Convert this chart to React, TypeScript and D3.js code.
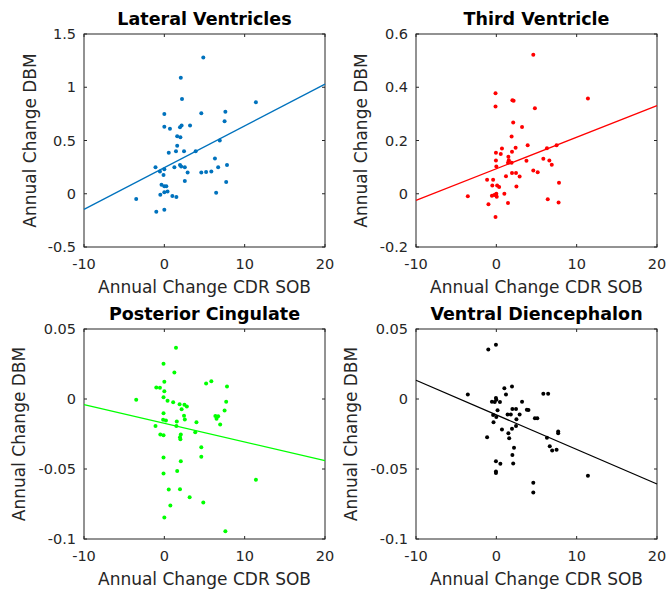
import React from "react";
import * as d3 from "d3";

// x = annual change CDR SOB, y = annual change DBM
const lateralX = [-3.5, -1.0, 0, -1.1, -0.55, 0, -0.1, -0.35, 0, 0.25, -0.5, 0, 0.4, 1.0, 1.5, 0, 0, 0.7, 0.55, 1.25, 1.45, 1.6, 1.6, 2.0, 1.95, 2.15, 3.2, 2.05, 2.2, 2.45, 1.95, 2.1, 2.55, 2.9, 2.55, 3.9, 4.85, 4.6, 4.6, 5.2, 5.85, 6.3, 6.7, 6.45, 6.9, 7.5, 7.6, 7.8, 7.7, 11.4];
const lateralY = [-0.05, -0.17, -0.15, 0.25, 0.21, 0.23, 0.175, 0.085, 0.07, 0.07, -0.01, 0.015, 0.02, -0.02, -0.03, 0.75, 0.63, 0.61, 0.385, 0.25, 0.4, 0.45, 0.54, 0.53, 0.625, 0.64, 0.64, 1.09, 0.89, 0.4, 0.27, 0.255, 0.25, 0.2, 0.12, 0.4, 1.28, 0.755, 0.2, 0.205, 0.21, 0.33, 0.25, 0.01, 0.5, 0.68, 0.77, 0.27, 0.11, 0.86];

const thirdX = [-3.55, -0.98, -0.1, -1.15, -0.4, -0.5, 0.1, 0.35, -0.55, -0.25, 0, 0.05, 1.0, 1.45, -0.1, -0.1, -0.05, -0.05, 0, 0.55, 0.7, 1.2, 1.5, 1.55, 1.45, 1.9, 1.95, 1.9, 2.0, 2.15, 2.1, 2.4, 1.95, 2.45, 2.9, 2.5, 3.2, 3.9, 3.75, 4.6, 4.8, 4.6, 5.15, 5.85, 6.3, 6.6, 6.9, 6.4, 7.5, 7.75, 7.8, 11.4];
const thirdY = [-0.009, -0.039, -0.0875, 0.0525, 0.0525, 0.031, 0.031, 0.025, -0.0075, -0.005, 0, -0.011, 0, -0.035, 0.3775, 0.3275, 0.154, 0.125, 0.1025, 0.149, 0.17, 0.066, 0.139, 0.126, 0.116, 0.116, 0.1575, 0.215, 0.351, 0.349, 0.2675, 0.1725, 0.0775, 0.0775, 0.065, 0.0275, 0.251, 0.1825, 0.124, 0.5225, 0.321, 0.0875, 0.081, 0.131, 0.171, 0.125, 0.109, -0.021, 0.1825, -0.0325, 0.041, 0.3575];

const cingulateX = [-3.5, -1.1, -1.0, -0.55, 0, 0, -0.1, -0.1, 0.4, -0.1, -0.15, 0.2, -0.5, -0.1, -0.1, -0.1, 0.55, 0.75, 0, 1.1, 1.25, 1.45, 1.55, 1.5, 1.6, 1.9, 2.15, 2.5, 2.8, 2.45, 2.55, 2.05, 1.95, 2.0, 2.05, 1.95, 3.15, 3.85, 4.0, 4.6, 4.6, 4.85, 5.2, 5.85, 6.35, 6.5, 6.7, 6.95, 7.5, 7.7, 7.8, 7.6, 11.4];
const cingulateY = [-0.0005, -0.0193, 0.0083, 0.008, 0.0056, 0.0124, 0.0251, 0.0012, -0.0012, -0.0102, -0.0149, -0.0154, -0.0254, -0.0259, -0.0417, -0.0532, -0.0646, -0.0761, -0.0846, -0.0024, 0.019, 0.0366, -0.0161, -0.0193, -0.0515, -0.0037, -0.0073, -0.0041, -0.0054, -0.012, -0.0146, -0.0254, -0.0273, -0.0288, -0.0444, -0.0644, -0.0702, -0.0237, -0.0166, -0.0344, -0.0412, -0.0739, 0.011, 0.0127, -0.0122, -0.0141, -0.0124, -0.0183, -0.0083, -0.002, 0.009, -0.0944, -0.0576];

const diencephalonX = [-3.55, -1.0, -0.05, -1.15, -0.55, -0.2, -0.05, 0, 0.45, 0.15, -0.4, 0, -0.35, -0.05, -0.05, -0.05, 0.5, 0.7, 1.0, 1.2, 1.4, 1.5, 1.6, 1.8, 1.95, 2.0, 2.45, 1.95, 2.5, 2.45, 2.9, 2.2, 2.0, 2.1, 3.2, 3.8, 4.0, 4.8, 5.1, 4.6, 4.6, 5.85, 6.45, 6.3, 6.65, 6.95, 7.5, 7.7, 7.7, 11.4];
const diencephalonY = [0.0032, 0.0354, 0.0388, -0.0273, -0.002, -0.0022, 0.0007, -0.0005, -0.0022, -0.008, -0.0115, -0.0129, -0.0166, -0.0444, -0.0517, -0.0529, -0.0463, -0.0217, 0.0076, 0.0032, -0.011, -0.0244, -0.028, -0.011, 0.009, -0.0071, -0.0071, -0.0212, -0.0144, -0.0193, -0.011, -0.0349, -0.04, -0.0461, -0.002, -0.0076, -0.0078, -0.0137, -0.0137, -0.0598, -0.0668, 0.0037, 0.0037, -0.0276, -0.0337, -0.0368, -0.0363, -0.0244, -0.0232, -0.0549];

// linear fits: [intercept, slope]
const lateralFit = [0.245, 0.03923];
const thirdFit = [0.0937, 0.01187];
const cingulateFit = [-0.01733, -0.001333];
const diencephalonFit = [-0.0113, -0.00247];

const xTicks = [-10, 0, 10, 20];
const lateralTicks = [-0.5, 0, 0.5, 1, 1.5];
const thirdTicks = [-0.2, 0, 0.2, 0.4, 0.6];
const smallTicks = [-0.1, -0.05, 0, 0.05];

const titles = ["Lateral Ventricles", "Third Ventricle", "Posterior Cingulate", "Ventral Diencephalon"];
const xLabel = "Annual Change CDR SOB";
const yLabel = "Annual Change DBM";

const axisColor = "#262626";
const font = "DejaVu Sans, sans-serif";

type PanelProps = {
  title: string;
  xs: number[];
  ys: number[];
  fit: number[];
  yTicks: number[];
  color: string;
  left: number;
  top: number;
  right: number;
  bottom: number;
  yLabelX: number;
};

function Panel(p: PanelProps) {
  const x = d3.scaleLinear().domain([-10, 20]).range([p.left, p.right]);
  const y = d3
    .scaleLinear()
    .domain([p.yTicks[0], p.yTicks[p.yTicks.length - 1]])
    .range([p.bottom, p.top]);

  const line = d3
    .line<number>()
    .x((d) => x(d))
    .y((d) => y(p.fit[0] + p.fit[1] * d));

  const tl = 3;
  return (
    <g>
      <text
        x={(p.left + p.right) / 2}
        y={p.top - 9}
        textAnchor="middle"
        fontWeight="bold"
        fontSize={17.5}
        fill="#000"
      >
        {p.title}
      </text>
      <rect
        x={p.left}
        y={p.top}
        width={p.right - p.left}
        height={p.bottom - p.top}
        fill="#fff"
        stroke={axisColor}
        strokeWidth={1}
      />
      {xTicks.map((t) => (
        <g key={"x" + t}>
          <line x1={x(t)} x2={x(t)} y1={p.bottom} y2={p.bottom - tl} stroke={axisColor} />
          <line x1={x(t)} x2={x(t)} y1={p.top} y2={p.top + tl} stroke={axisColor} />
          <text x={x(t)} y={p.bottom + 22} textAnchor="middle" fontSize={14.5} fill={axisColor}>
            {t}
          </text>
        </g>
      ))}
      {p.yTicks.map((t) => (
        <g key={"y" + t}>
          <line x1={p.left} x2={p.left + tl} y1={y(t)} y2={y(t)} stroke={axisColor} />
          <line x1={p.right} x2={p.right - tl} y1={y(t)} y2={y(t)} stroke={axisColor} />
          <text
            x={p.left - 8}
            y={y(t)}
            dy="0.36em"
            textAnchor="end"
            fontSize={14.5}
            fill={axisColor}
          >
            {t}
          </text>
        </g>
      ))}
      {p.xs.map((xv, i) => (
        <circle key={i} cx={x(xv)} cy={y(p.ys[i])} r={2} fill={p.color} />
      ))}
      <path d={line([-10, 20]) || ""} fill="none" stroke={p.color} strokeWidth={1.3} />
      <text
        x={(p.left + p.right) / 2}
        y={p.bottom + 46}
        textAnchor="middle"
        fontSize={17}
        fill={axisColor}
      >
        {xLabel}
      </text>
      <text
        transform={`translate(${p.yLabelX},${(p.top + p.bottom) / 2}) rotate(-90)`}
        textAnchor="middle"
        fontSize={17}
        fill={axisColor}
      >
        {yLabel}
      </text>
    </g>
  );
}

export default function App() {
  return (
    <svg
      width={668}
      height={592}
      style={{ position: "absolute", left: 0, top: 0, background: "#fff" }}
      fontFamily={font}
    >
      <Panel title={titles[0]} xs={lateralX} ys={lateralY} fit={lateralFit} yTicks={lateralTicks}
        color="#0072BD" left={84} right={325} top={34} bottom={247} yLabelX={36} />
      <Panel title={titles[1]} xs={thirdX} ys={thirdY} fit={thirdFit} yTicks={thirdTicks}
        color="#FF0000" left={416} right={657} top={34} bottom={247} yLabelX={367} />
      <Panel title={titles[2]} xs={cingulateX} ys={cingulateY} fit={cingulateFit} yTicks={smallTicks}
        color="#00FF00" left={84} right={325} top={329} bottom={539} yLabelX={25} />
      <Panel title={titles[3]} xs={diencephalonX} ys={diencephalonY} fit={diencephalonFit} yTicks={smallTicks}
        color="#000000" left={416} right={657} top={329} bottom={539} yLabelX={357} />
    </svg>
  );
}
